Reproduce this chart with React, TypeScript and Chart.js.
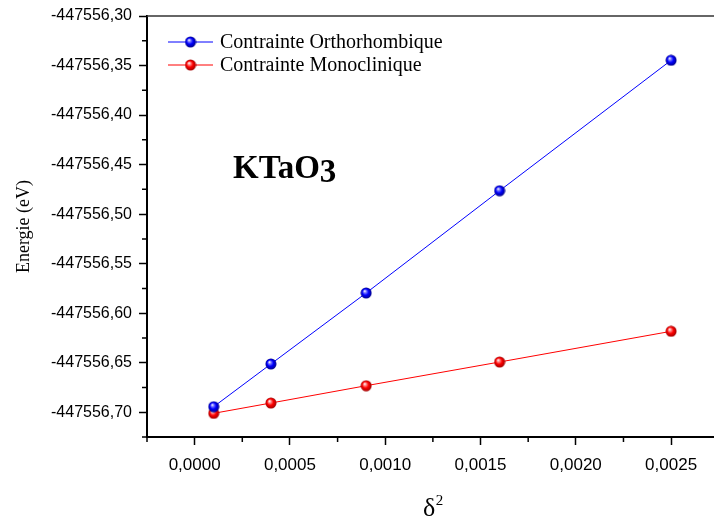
import React, { useEffect, useRef } from "react";
import { Chart, registerables } from "chart.js";

Chart.register(...registerables);

// ---- data ----
const deltaSquared = [0.0001, 0.0004, 0.0009, 0.0016, 0.0025];
const orthoEnergy = [-447556.6944, -447556.6513, -447556.5796, -447556.4764, -447556.3447];
const monoEnergy = [-447556.7011, -447556.6907, -447556.6732, -447556.6493, -447556.6183];
const seriesLabels = ["Contrainte Orthorhombique", "Contrainte Monoclinique"];
const seriesColors = ["#0000ff", "#ff0000"];

const xTickValues = [0, 0.0005, 0.001, 0.0015, 0.002, 0.0025];
const xMinorTicks = [-0.00025, 0.00025, 0.00075, 0.00125, 0.00175, 0.00225];
const yTickValues = [
  -447556.3, -447556.35, -447556.4, -447556.45, -447556.5,
  -447556.55, -447556.6, -447556.65, -447556.7,
];
const yMinorTicks = [
  -447556.325, -447556.375, -447556.425, -447556.475, -447556.525,
  -447556.575, -447556.625, -447556.675, -447556.725,
];
const xMin = -0.00025;
const xMax = 0.002725;
const yMin = -447556.725;
const yMax = -447556.3;

const yAxisTitle = "Energie (eV)";
const xAxisSymbol = "δ";
const xAxisExponent = "2";
const annotationMain = "KTaO";
const annotationSub = "3";

const SANS = "'Liberation Sans', Arial, sans-serif";
const SERIF = "'Liberation Serif', 'Times New Roman', serif";

function makeSphere(base: string, dark: string, light: string): HTMLCanvasElement {
  const size = 12;
  const c = document.createElement("canvas");
  c.width = size;
  c.height = size;
  const g = c.getContext("2d")!;
  const cx = size / 2;
  const cy = size / 2;
  const r = 5.5;
  const grad = g.createRadialGradient(cx - 1.6, cy - 2, 0.2, cx, cy, r);
  grad.addColorStop(0, "#ffffff");
  grad.addColorStop(0.22, light);
  grad.addColorStop(0.55, base);
  grad.addColorStop(1, dark);
  g.fillStyle = grad;
  g.beginPath();
  g.arc(cx, cy, r, 0, Math.PI * 2);
  g.fill();
  return c;
}

export default function App() {
  const canvasRef = useRef<HTMLCanvasElement | null>(null);

  useEffect(() => {
    const canvas = canvasRef.current;
    if (!canvas) return;
    const spheres = [
      makeSphere("#0000ff", "#00008a", "#8080ff"),
      makeSphere("#ff0000", "#a00000", "#ff9090"),
    ];

    // the plot runs to the right edge of the picture (cropped frame)
    const stretch = {
      id: "stretch",
      afterLayout(chart: any) {
        const xs = chart.scales.x;
        xs.right = chart.width;
        xs.width = xs.right - xs.left;
        xs.configure();
        chart.chartArea.right = chart.width;
        chart.chartArea.width = chart.chartArea.right - chart.chartArea.left;
      },
    };

    const decor = {
      id: "decor",
      afterDraw(chart: any) {
        const ctx = chart.ctx as CanvasRenderingContext2D;
        const { left, right, top, bottom } = chart.chartArea;
        const xs = chart.scales.x;
        const ys = chart.scales.y;
        ctx.save();
        // top frame line
        ctx.strokeStyle = "#333333";
        ctx.lineWidth = 1.5;
        ctx.beginPath();
        ctx.moveTo(left, top);
        ctx.lineTo(right, top);
        ctx.stroke();
        // minor ticks
        ctx.strokeStyle = "#000000";
        ctx.lineWidth = 1.5;
        ctx.beginPath();
        xMinorTicks.forEach((v) => {
          const px = xs.getPixelForValue(v);
          ctx.moveTo(px, bottom);
          ctx.lineTo(px, bottom + 5);
        });
        yMinorTicks.forEach((v) => {
          const py = ys.getPixelForValue(v);
          ctx.moveTo(left - 5, py);
          ctx.lineTo(left, py);
        });
        ctx.stroke();

        // legend
        const rows = [42, 65];
        chart.data.datasets.forEach((ds: any, i: number) => {
          const y = rows[i];
          ctx.strokeStyle = ds.borderColor;
          ctx.lineWidth = 1;
          ctx.beginPath();
          ctx.moveTo(168, y);
          ctx.lineTo(213, y);
          ctx.stroke();
          const img = spheres[i];
          ctx.drawImage(img, 190.5 - img.width / 2, y - img.height / 2);
          ctx.fillStyle = "#000";
          ctx.font = `20px ${SERIF}`;
          ctx.textAlign = "left";
          ctx.textBaseline = "middle";
          ctx.fillText(ds.label, 220, y + 1);
        });

        // annotation
        ctx.fillStyle = "#000";
        ctx.font = `bold 33px ${SERIF}`;
        ctx.textAlign = "left";
        ctx.textBaseline = "alphabetic";
        ctx.fillText(annotationMain, 233, 178);
        const w = ctx.measureText(annotationMain).width;
        ctx.fillText(annotationSub, 233 + w, 182);

        // y axis title
        ctx.save();
        ctx.translate(24.5, (top + bottom) / 2);
        ctx.rotate(-Math.PI / 2);
        ctx.font = `18px ${SERIF}`;
        ctx.textAlign = "center";
        ctx.textBaseline = "middle";
        ctx.fillText(yAxisTitle, 0, 0);
        ctx.restore();

        // x axis title
        ctx.font = `26px ${SERIF}`;
        ctx.textAlign = "left";
        ctx.textBaseline = "alphabetic";
        ctx.fillText(xAxisSymbol, 423, 516);
        const dw = ctx.measureText(xAxisSymbol).width;
        ctx.font = `15px ${SERIF}`;
        ctx.fillText(xAxisExponent, 423 + dw + 0.5, 505);

        ctx.restore();
      },
    };

    const chart = new Chart(canvas, {
      type: "line",
      data: {
        datasets: [
          {
            label: seriesLabels[0],
            data: deltaSquared.map((x, i) => ({ x, y: orthoEnergy[i] })),
            borderColor: seriesColors[0],
            backgroundColor: seriesColors[0],
            borderWidth: 1,
            pointStyle: spheres[0],
            pointRadius: 5,
            pointHoverRadius: 5,
            tension: 0,
          },
          {
            label: seriesLabels[1],
            data: deltaSquared.map((x, i) => ({ x, y: monoEnergy[i] })),
            borderColor: seriesColors[1],
            backgroundColor: seriesColors[1],
            borderWidth: 1,
            pointStyle: spheres[1],
            pointRadius: 5,
            pointHoverRadius: 5,
            tension: 0,
          },
        ],
      },
      plugins: [stretch, decor],
      options: {
        responsive: false,
        animation: false,
        events: [],
        layout: { padding: { top: 16, right: 0, left: 0, bottom: 0 } },
        plugins: {
          legend: { display: false },
          tooltip: { enabled: false },
          title: { display: false },
        },
        scales: {
          x: {
            type: "linear",
            min: xMin,
            max: xMax,
            afterBuildTicks: (scale: any) => {
              scale.ticks = xTickValues.map((value) => ({ value }));
            },
            afterFit: (scale: any) => {
              scale.height = 90;
              scale.paddingLeft = 0;
              scale.paddingRight = 0;
            },
            border: { display: true, color: "#000", width: 2 },
            grid: {
              drawOnChartArea: false,
              drawTicks: true,
              tickLength: 8,
              tickWidth: 1.5,
              tickColor: "#000",
            },
            ticks: {
              autoSkip: false,
              maxRotation: 0,
              padding: 10,
              color: "#000",
              font: { family: SANS, size: 17 },
              callback: (v: any) => Number(v).toFixed(4).replace(".", ","),
            },
          },
          y: {
            type: "linear",
            min: yMin,
            max: yMax,
            afterBuildTicks: (scale: any) => {
              scale.ticks = yTickValues.map((value) => ({ value }));
            },
            afterFit: (scale: any) => {
              scale.width = 147;
              scale.paddingTop = 0;
              scale.paddingBottom = 0;
            },
            border: { display: true, color: "#000", width: 2 },
            grid: {
              drawOnChartArea: false,
              drawTicks: true,
              tickLength: 8,
              tickWidth: 1.5,
              tickColor: "#000",
            },
            ticks: {
              autoSkip: false,
              padding: 7,
              color: "#000",
              font: { family: SANS, size: 16 },
              callback: (v: any) => Number(v).toFixed(2).replace(".", ","),
            },
          },
        },
      } as any,
    });

    return () => chart.destroy();
  }, []);

  return (
    <div style={{ position: "fixed", left: 0, top: 0, width: 714, height: 527, background: "#fff" }}>
      <canvas ref={canvasRef} width={714} height={527} style={{ display: "block" }} />
    </div>
  );
}
